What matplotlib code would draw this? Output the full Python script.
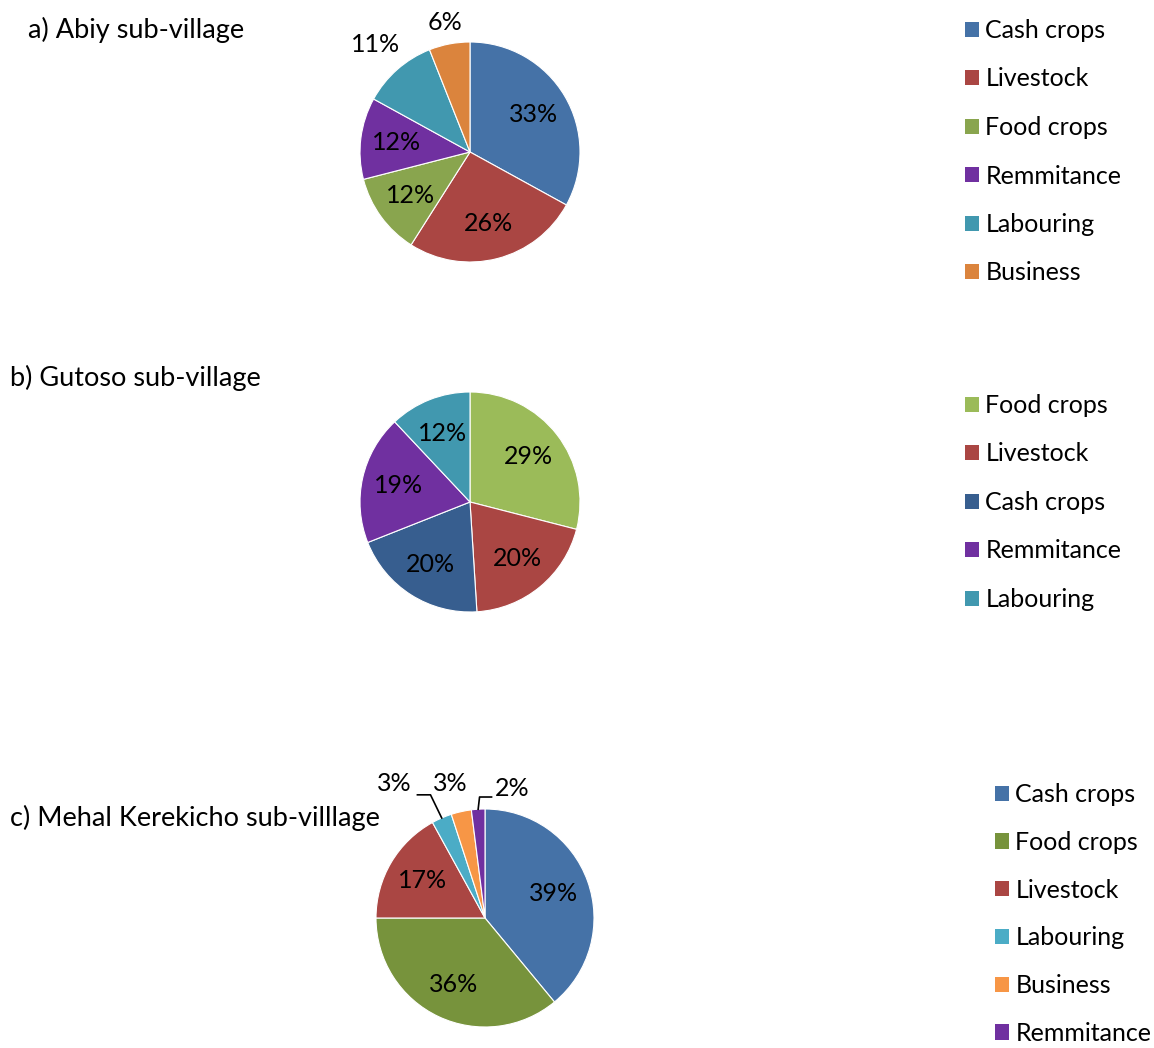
"""
Income sources by sub-village: three pie charts with legends
"""

import numpy as np
import matplotlib.pyplot as plt
from matplotlib.patches import Patch

plt.rcParams["font.family"] = ["Lato", "DejaVu Sans"]

# data
a_labels = ["Cash crops", "Livestock", "Food crops", "Remmitance", "Labouring", "Business"]
a_values = [33, 26, 12, 12, 11, 6]
a_colors = ["#4572A7", "#AA4643", "#89A54E", "#7030A0", "#4198AF", "#DB843D"]

b_labels = ["Food crops", "Livestock", "Cash crops", "Remmitance", "Labouring"]
b_values = [29, 20, 20, 19, 12]
b_colors = ["#9BBB59", "#AA4643", "#375E8F", "#7030A0", "#4198AF"]

c_labels = ["Cash crops", "Food crops", "Livestock", "Labouring", "Business", "Remmitance"]
c_values = [39, 36, 17, 3, 3, 2]
c_colors = ["#4572A7", "#77933C", "#AA4643", "#4BACC6", "#F79646", "#7030A0"]

W, H = 1154, 1048
FS = 18        # labels and legends
FS_TITLE = 19.5

fig = plt.figure(figsize=(W / 100, H / 100), dpi=100)


def pie_axes(cx, cy, r):
    ax = fig.add_axes([(cx - r) / W, 1 - (cy + r) / H, 2 * r / W, 2 * r / H])
    return ax


def draw_pie(ax, values, colors, label_pos):
    wedges, _ = ax.pie(
        values,
        colors=colors,
        startangle=90,
        counterclock=False,
        radius=1,
        wedgeprops=dict(edgecolor="white", linewidth=0.8),
    )
    for w, v, pos in zip(wedges, values, label_pos):
        mid = np.deg2rad((w.theta1 + w.theta2) / 2)
        if pos is None:
            x, y = 0.67 * np.cos(mid), 0.67 * np.sin(mid)
        elif isinstance(pos, float):
            x, y = pos * np.cos(mid), pos * np.sin(mid)
        else:
            x, y = pos
        ax.text(x, y, f"{v}%", ha="center", va="center", fontsize=FS)
    ax.set_xlim(-1, 1)
    ax.set_ylim(-1, 1)
    ax.axis("off")
    return wedges


def leader(ax, wedge, elbow, end):
    mid = np.deg2rad((wedge.theta1 + wedge.theta2) / 2)
    xs = [np.cos(mid), elbow[0], end]
    ys = [np.sin(mid), elbow[1], elbow[1]]
    ax.plot(xs, ys, color="black", linewidth=1.2, clip_on=False)


def legend(labels, colors, x, y, spacing=1.02):
    handles = [Patch(facecolor=c, edgecolor="none") for c in colors]
    fig.legend(
        handles,
        labels,
        loc="upper left",
        bbox_to_anchor=(x / W, 1 - y / H),
        frameon=False,
        fontsize=FS,
        borderpad=0,
        borderaxespad=0,
        handlelength=0.56,
        handleheight=0.56,
        handletextpad=0.25,
        labelspacing=spacing,
    )


# a) Abiy
ax_a = pie_axes(470, 152, 110)
draw_pie(ax_a, a_values, a_colors, [None, None, None, None, 1.3, 1.2])
fig.text(28 / W, 1 - 30 / H, "a) Abiy sub-village", fontsize=FS_TITLE, va="center")
legend(a_labels, a_colors, 965, 19)

# b) Gutoso
ax_b = pie_axes(470, 502, 110)
draw_pie(ax_b, b_values, b_colors, [None] * 5)
fig.text(10 / W, 1 - 378 / H, "b) Gutoso sub-village", fontsize=FS_TITLE, va="center")
legend(b_labels, b_colors, 965, 394)

# c) Mehal Kerekicho
ax_c = pie_axes(485, 918, 109)
wc = draw_pie(
    ax_c, c_values, c_colors,
    [None, None, None, (-0.83, 1.23), (-0.32, 1.23), (0.25, 1.19)],
)
leader(ax_c, wc[3], (-0.50, 1.13), -0.62)
leader(ax_c, wc[5], (-0.05, 1.11), 0.06)
fig.text(10 / W, 1 - 818 / H, "c) Mehal Kerekicho sub-villlage", fontsize=FS_TITLE, va="center")
legend(c_labels, c_colors, 995, 783, spacing=0.99)

plt.savefig("out.png", dpi=100)
